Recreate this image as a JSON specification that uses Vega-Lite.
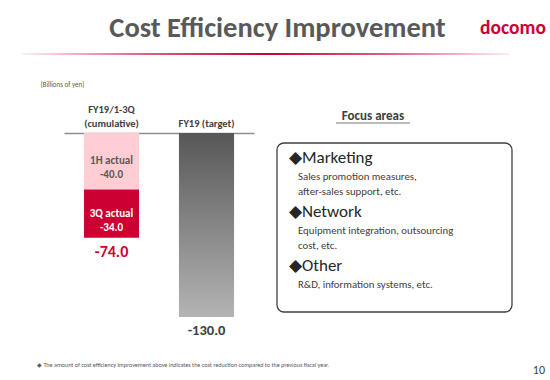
{
  "$schema": "https://vega.github.io/schema/vega-lite/v6.json",
  "width": 550,
  "height": 380,
  "autosize": "none",
  "padding": 0,
  "background": "white",
  "config": {
    "view": {"stroke": null},
    "font": "Carlito, Lato, sans-serif",
    "text": {"font": "Carlito, Lato, sans-serif"}
  },
  "datasets": {
    "costs": [
      {"category": "FY19/1-3Q (cumulative)", "segment": "1H actual", "value": -40.0},
      {"category": "FY19/1-3Q (cumulative)", "segment": "3Q actual", "value": -34.0},
      {"category": "FY19 (target)", "segment": "Target", "value": -130.0}
    ],
    "focus": [
      {"area": "Marketing", "detail": "Sales promotion measures,\nafter-sales support, etc."},
      {"area": "Network", "detail": "Equipment integration, outsourcing\ncost, etc."},
      {"area": "Other", "detail": "R&D, information systems, etc."}
    ],
    "header": [
      {"el": "title", "text": "Cost Efficiency Improvement"},
      {"el": "logo", "text": "docomo"}
    ],
    "footer": [
      {"el": "note", "text": "◆ The amount of cost efficiency improvement above indicates the cost reduction compared to the previous fiscal year."},
      {"el": "page", "text": "10"}
    ],
    "panel": [{"panel": "Focus areas"}],
    "divider": [{"el": "divider"}]
  },
  "resolve": {"scale": {"x": "independent", "y": "independent", "color": "independent", "size": "independent"}},
  "layer": [
    {
      "data": {"name": "divider"},
      "mark": {"type": "rect", "color": {"gradient": "linear", "x1": 0, "y1": 0, "x2": 1, "y2": 0, "stops": [
        {"offset": 0, "color": "#fbf0f2"},
        {"offset": 0.25, "color": "#e2607e"},
        {"offset": 0.5, "color": "#CC0033"},
        {"offset": 0.75, "color": "#e2607e"},
        {"offset": 1, "color": "#fbf0f2"}
      ]}},
      "encoding": {
        "x": {"field": "el", "type": "nominal", "scale": {"type": "band", "domain": ["divider"], "range": [22, 510], "paddingInner": 0, "paddingOuter": 0}, "axis": null},
        "y": {"field": "el", "type": "nominal", "scale": {"type": "band", "domain": ["divider"], "range": [53, 55], "paddingInner": 0, "paddingOuter": 0}, "axis": null}
      }
    },
    {
      "data": {"name": "header"},
      "mark": {"type": "text", "baseline": "alphabetic", "fontWeight": "bold"},
      "encoding": {
        "x": {"field": "el", "type": "nominal", "scale": {"type": "point", "domain": ["title", "logo"], "range": [277.5, 513], "padding": 0}, "axis": null},
        "y": {"field": "el", "type": "nominal", "scale": {"type": "point", "domain": ["title", "logo"], "range": [37, 34], "padding": 0}, "axis": null},
        "text": {"field": "text", "type": "nominal"},
        "size": {"condition": {"test": "datum.el == 'logo'", "value": 19.5}, "value": 28.5},
        "color": {"condition": {"test": "datum.el == 'logo'", "value": "#CC0033"}, "value": "#595959"}
      }
    },
    {
      "data": {"name": "costs"},
      "encoding": {
        "x": {
          "field": "category", "type": "nominal", "sort": null,
          "scale": {"type": "band", "domain": ["FY19/1-3Q (cumulative)", "FY19 (target)"], "range": [64, 254], "paddingInner": 0.42, "paddingOuter": 0.21},
          "axis": {
            "orient": "top", "offset": -133, "title": null,
            "domainColor": "#8f8f8f", "domainWidth": 1.5, "ticks": false, "grid": false,
            "labelAngle": 0, "labelFontSize": 10.5, "labelFontWeight": "bold", "labelColor": "#404040",
            "labelPadding": {"condition": {"test": "datum.value == 'FY19/1-3Q (cumulative)'", "value": 19}, "value": 5},
            "labelLineHeight": 14,
            "labelExpr": "datum.value == 'FY19/1-3Q (cumulative)' ? ['FY19/1-3Q', '(cumulative)'] : datum.label"
          }
        },
        "y": {
          "field": "value", "type": "quantitative", "title": "(Billions of yen)",
          "scale": {"domain": [-130, 0], "range": [317, 133], "nice": false, "zero": true},
          "axis": {
            "orient": "left", "domain": false, "ticks": false, "labels": false, "grid": false,
            "title": "(Billions of yen)", "titleAngle": 0, "titleAlign": "left", "titleBaseline": "middle",
            "titleX": 40, "titleY": 84, "titleFontSize": 7, "titleFontWeight": "normal", "titleColor": "#595959"
          }
        }
      },
      "layer": [
        {
          "transform": [{"filter": "datum.category == 'FY19/1-3Q (cumulative)'"}],
          "mark": {"type": "bar"},
          "encoding": {
            "color": {"field": "segment", "type": "nominal", "scale": {"domain": ["1H actual", "3Q actual"], "range": ["#FFCDD3", "#CC0033"]}, "legend": null},
            "order": {"field": "segment", "sort": "ascending"}
          }
        },
        {
          "transform": [{"filter": "datum.category == 'FY19 (target)'"}],
          "mark": {"type": "bar", "color": {"gradient": "linear", "x1": 0, "y1": 0, "x2": 0, "y2": 1, "stops": [
            {"offset": 0, "color": "#575757"},
            {"offset": 1, "color": "#b4b4b4"}
          ]}}
        },
        {
          "transform": [
            {"filter": "datum.category == 'FY19/1-3Q (cumulative)'"},
            {"stack": "value", "groupby": ["category"], "sort": [{"field": "segment", "order": "ascending"}], "as": ["v0", "v1"]},
            {"calculate": "(datum.v0 + datum.v1) / 2", "as": "mid"},
            {"calculate": "[datum.segment, replace(format(datum.value, '.1f'), '\u2212', '-')]", "as": "label"}
          ],
          "mark": {"type": "text", "fontSize": 11, "fontWeight": "bold", "lineHeight": 14, "baseline": "middle"},
          "encoding": {
            "y": {"field": "mid", "type": "quantitative", "title": "(Billions of yen)"},
            "text": {"field": "label", "type": "nominal"},
            "color": {"condition": {"test": "datum.segment == '3Q actual'", "value": "white"}, "value": "#595959"}
          }
        },
        {
          "transform": [
            {"aggregate": [{"op": "sum", "field": "value", "as": "total"}], "groupby": ["category"]},
            {"calculate": "replace(format(datum.total, '.1f'), '\u2212', '-')", "as": "totalLabel"}
          ],
          "mark": {"type": "text", "baseline": "middle", "dy": 14, "fontWeight": "bold"},
          "encoding": {
            "y": {"field": "total", "type": "quantitative", "title": "(Billions of yen)"},
            "text": {"field": "totalLabel", "type": "nominal"},
            "color": {"condition": {"test": "datum.category == 'FY19/1-3Q (cumulative)'", "value": "#CC0033"}, "value": "#404040"},
            "size": {"condition": {"test": "datum.category == 'FY19/1-3Q (cumulative)'", "value": 16}, "value": 14.5}
          }
        }
      ]
    },
    {
      "data": {"name": "panel"},
      "encoding": {
        "x": {"field": "panel", "type": "nominal", "scale": {"type": "band", "domain": ["Focus areas"], "range": [277, 512], "paddingInner": 0, "paddingOuter": 0}, "axis": null},
        "y": {"field": "panel", "type": "nominal", "scale": {"type": "band", "domain": ["Focus areas"], "range": [143, 312], "paddingInner": 0, "paddingOuter": 0}, "axis": null}
      },
      "layer": [
        {"mark": {"type": "rect", "fill": "white", "stroke": "#3f3f3f", "strokeWidth": 1.3, "cornerRadius": 7}},
        {
          "mark": {"type": "text", "fontSize": 13, "fontWeight": "bold", "color": "#404040", "dx": -21.5, "dy": -27, "baseline": "middle"},
          "encoding": {
            "y": {"field": "panel", "type": "nominal", "bandPosition": 0},
            "text": {"field": "panel", "type": "nominal"}
          }
        },
        {
          "mark": {"type": "tick", "orient": "horizontal", "size": 74, "thickness": 1.1, "color": "#404040", "xOffset": -21.5, "yOffset": -20},
          "encoding": {
            "y": {"field": "panel", "type": "nominal", "bandPosition": 0}
          }
        }
      ]
    },
    {
      "data": {"name": "focus"},
      "transform": [{"calculate": "'◆' + datum.area", "as": "heading"}],
      "encoding": {
        "x": {"datum": "Focus areas", "type": "nominal", "bandPosition": 0, "scale": {"type": "band", "domain": ["Focus areas"], "range": [277, 512], "paddingInner": 0, "paddingOuter": 0}, "axis": null},
        "y": {"field": "area", "type": "nominal", "scale": {"type": "point", "domain": ["Marketing", "Network", "Other"], "range": [157.5, 265.7], "padding": 0}, "axis": null}
      },
      "layer": [
        {
          "mark": {"type": "text", "align": "left", "baseline": "middle", "dx": 12, "fontSize": 17, "color": "#262626"},
          "encoding": {"text": {"field": "heading", "type": "nominal"}}
        },
        {
          "mark": {"type": "text", "align": "left", "baseline": "top", "dx": 21, "dy": 13, "fontSize": 10.8, "lineHeight": 15, "lineBreak": "\n", "color": "#404040"},
          "encoding": {"text": {"field": "detail", "type": "nominal"}}
        }
      ]
    },
    {
      "data": {"name": "footer"},
      "encoding": {
        "x": {"field": "el", "type": "nominal", "scale": {"type": "point", "domain": ["note", "page"], "range": [37, 545], "padding": 0}, "axis": null},
        "y": {"field": "el", "type": "nominal", "scale": {"type": "point", "domain": ["note", "page"], "range": [365, 369.7], "padding": 0}, "axis": null},
        "text": {"field": "text", "type": "nominal"}
      },
      "layer": [
        {"transform": [{"filter": "datum.el == 'note'"}], "mark": {"type": "text", "align": "left", "baseline": "middle", "fontSize": 6.1, "color": "#595959"}},
        {"transform": [{"filter": "datum.el == 'page'"}], "mark": {"type": "text", "align": "right", "baseline": "middle", "fontSize": 12, "color": "#404040"}}
      ]
    }
  ]
}
